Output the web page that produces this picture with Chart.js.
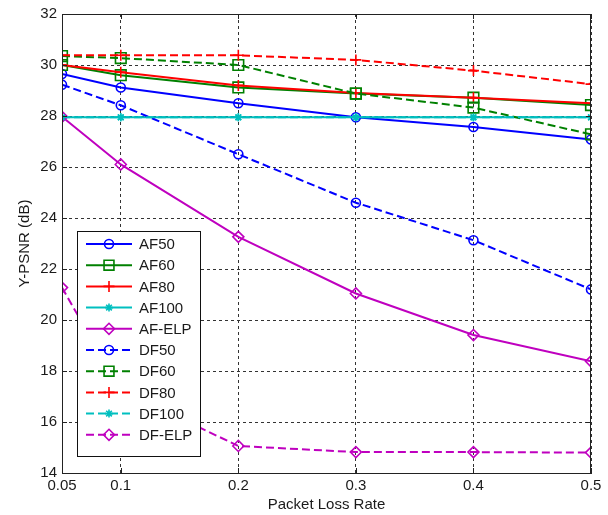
<!DOCTYPE html>
<html>
<head>
<meta charset="utf-8">
<script src="https://cdn.jsdelivr.net/npm/chart.js@4.4.1/dist/chart.umd.min.js"></script>
<style>
  html, body { margin: 0; padding: 0; background: #fff; }
  #wrap { width: 608px; height: 515px; }
</style>
</head>
<body>
<div id="wrap"><canvas id="chart-psnr" width="608" height="515"></canvas></div>
<script>
// Y-PSNR vs packet loss rate

const lossRates = [0.05, 0.1, 0.2, 0.3, 0.4, 0.5];
const xTickLabels = ['0.05', '0.1', '0.2', '0.3', '0.4', '0.5'];
const yTicks = [14, 16, 18, 20, 22, 24, 26, 28, 30, 32];

const af50  = [29.65, 29.12, 28.5, 27.95, 27.57, 27.08];
const af60  = [30.0, 29.6, 29.12, 28.88, 28.72, 28.43];
const af80  = [30.0, 29.72, 29.2, 28.9, 28.72, 28.5];
const af100 = [27.95, 27.95, 27.95, 27.95, 27.95, 27.95];
const afElp = [27.97, 26.1, 23.26, 21.04, 19.41, 18.38];
const df50  = [29.23, 28.42, 26.5, 24.6, 23.13, 21.2];
const df60  = [30.35, 30.27, 30.0, 28.88, 28.33, 27.28];
const df80  = [30.38, 30.38, 30.38, 30.2, 29.78, 29.25];
const df100 = [27.95, 27.95, 27.95, 27.95, 27.95, 27.95];
const dfElp = [21.27, 17.25, 15.06, 14.82, 14.82, 14.8];

const BLUE = '#0000ff', GREEN = '#008000', RED = '#ff0000', CYAN = '#00bfbf', MAGENTA = '#bf00bf';
const FONT = '"Liberation Sans", Arial, sans-serif';

function series(label, values, color, marker, radius, dashed) {
    return {
        label: label,
        data: values.map((v, i) => ({ x: lossRates[i], y: v })),
        borderColor: color,
        backgroundColor: color,
        borderWidth: 2,
        borderDash: dashed ? [8, 4] : [],
        pointStyle: marker,
        pointRadius: radius,
        pointBorderWidth: 1.6,
        pointBorderColor: color,
        pointBackgroundColor: 'rgba(0,0,0,0)',
        tension: 0,
        fill: false,
    };
}

const datasets = [
    series('AF50', af50, BLUE, 'circle', 4.5, false),
    series('AF60', af60, GREEN, 'rect', 7.5, false),
    series('AF80', af80, RED, 'cross', 5.5, false),
    series('AF100', af100, CYAN, 'star', 4, false),
    series('AF-ELP', afElp, MAGENTA, 'rectRot', 5.5, false),
    series('DF50', df50, BLUE, 'circle', 4.5, true),
    series('DF60', df60, GREEN, 'rect', 7.5, true),
    series('DF80', df80, RED, 'cross', 5.5, true),
    series('DF100', df100, CYAN, 'star', 4, true),
    series('DF-ELP', dfElp, MAGENTA, 'rectRot', 5.5, true),
];
// MATLAB draws later lines on top
datasets.forEach((d, i) => { d.order = datasets.length - i; });

// axes box with inward ticks, like MATLAB
const framePlugin = {
    id: 'frame',
    afterDatasetsDraw(chart) {
        const { ctx, chartArea: a, scales } = chart;
        ctx.save();
        ctx.strokeStyle = '#222';
        ctx.lineWidth = 1;
        ctx.setLineDash([]);
        ctx.strokeRect(a.left + 0.5, a.top + 0.5, a.right - a.left - 1, a.bottom - a.top);
        ctx.beginPath();
        scales.x.ticks.forEach(t => {
            const x = Math.round(scales.x.getPixelForValue(t.value)) + 0.5;
            ctx.moveTo(x, a.bottom); ctx.lineTo(x, a.bottom - 5);
            ctx.moveTo(x, a.top); ctx.lineTo(x, a.top + 5);
        });
        scales.y.ticks.forEach(t => {
            const y = Math.round(scales.y.getPixelForValue(t.value)) + 0.5;
            ctx.moveTo(a.left, y); ctx.lineTo(a.left + 5, y);
            ctx.moveTo(a.right, y); ctx.lineTo(a.right - 5, y);
        });
        ctx.stroke();
        ctx.restore();
    }
};

// MATLAB style legend: line sample with hollow marker in the middle
const legendPlugin = {
    id: 'matlabLegend',
    afterDraw(chart) {
        const ctx = chart.ctx;
        const box = { x: 77.5, y: 231.5, w: 123, h: 225 };
        const rowH = 21.2;
        ctx.save();
        ctx.fillStyle = '#fff';
        ctx.fillRect(box.x, box.y, box.w, box.h);
        ctx.strokeStyle = '#111';
        ctx.lineWidth = 1;
        ctx.strokeRect(box.x, box.y, box.w, box.h);
        ctx.font = '15px ' + FONT;
        ctx.textBaseline = 'middle';
        chart.data.datasets.forEach((d, i) => {
            const y = 244 + i * rowH;
            ctx.strokeStyle = d.borderColor;
            ctx.lineWidth = 2;
            ctx.setLineDash(d.borderDash);
            ctx.beginPath();
            ctx.moveTo(86, y);
            ctx.lineTo(132, y);
            ctx.stroke();
            ctx.setLineDash([]);
            ctx.lineWidth = 1.6;
            ctx.fillStyle = 'rgba(0,0,0,0)';
            Chart.helpers.drawPoint(ctx, {
                pointStyle: d.pointStyle,
                radius: d.pointStyle === 'rect' ? 7 : d.pointRadius,
                borderWidth: 1.6,
                rotation: 0,
            }, 109, y);
            ctx.fillStyle = '#1a1a1a';
            ctx.fillText(d.label, 139, y + 1);
        });
        ctx.restore();
    }
};

new Chart(document.getElementById('chart-psnr').getContext('2d'), {
    type: 'line',
    data: { datasets: datasets },
    options: {
        responsive: false,
        animation: false,
        devicePixelRatio: 1,
        layout: { padding: { top: 12, right: 17, left: 0, bottom: 0 } },
        plugins: {
            legend: { display: false },
            tooltip: { enabled: false },
        },
        scales: {
            x: {
                type: 'linear',
                min: 0.05,
                max: 0.5,
                afterBuildTicks: s => { s.ticks = lossRates.map(v => ({ value: v })); },
                afterFit: s => { s.height = 42; },
                ticks: {
                    color: '#1a1a1a',
                    font: { family: FONT, size: 15 },
                    padding: 4,
                    maxRotation: 0,
                    callback: (v, i) => xTickLabels[i],
                },
                grid: { color: '#333', lineWidth: 1, drawTicks: false },
                border: { display: true, color: '#222', dash: [3, 3] },
                title: {
                    display: true,
                    text: 'Packet Loss Rate',
                    color: '#1a1a1a',
                    font: { family: FONT, size: 15 },
                    padding: { top: 0, bottom: 1 },
                },
            },
            y: {
                min: 14,
                max: 32,
                afterBuildTicks: s => { s.ticks = yTicks.map(v => ({ value: v })); },
                afterFit: s => { s.width = 62; },
                ticks: {
                    color: '#1a1a1a',
                    font: { family: FONT, size: 15 },
                    padding: 5,
                },
                grid: { color: '#333', lineWidth: 1, drawTicks: false },
                border: { display: true, color: '#222', dash: [3, 3] },
                title: {
                    display: true,
                    text: 'Y-PSNR (dB)',
                    color: '#1a1a1a',
                    font: { family: FONT, size: 15 },
                    padding: { top: 16, bottom: 0 },
                },
            }
        }
    },
    plugins: [framePlugin, legendPlugin]
});
</script>
</body>
</html>
